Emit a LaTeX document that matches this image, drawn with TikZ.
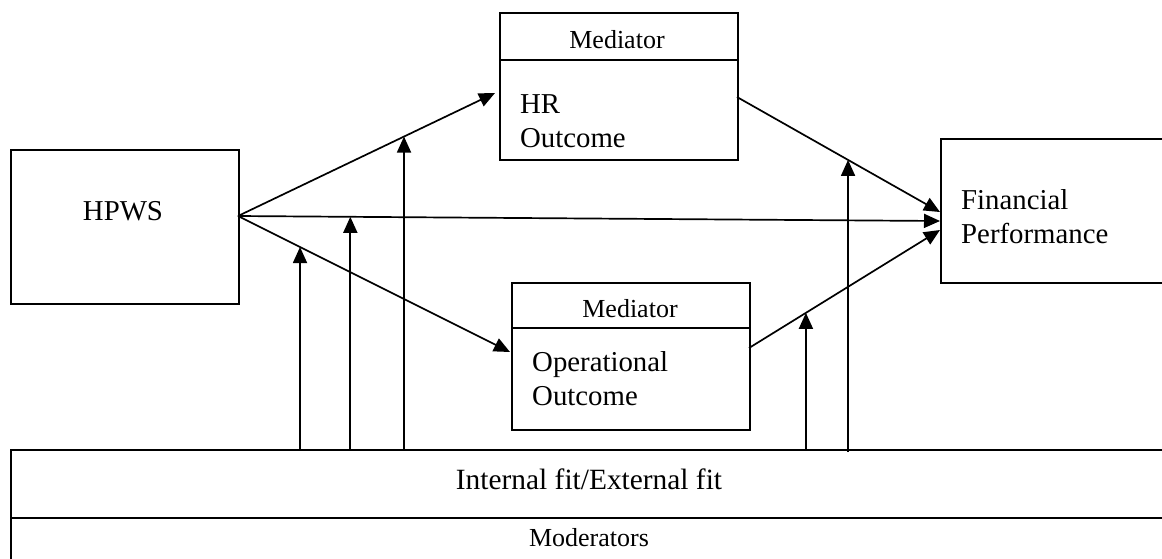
\documentclass[tikz,border=0pt]{standalone}
\usepackage{fontspec}
\setmainfont{Liberation Serif}
\usetikzlibrary{arrows.meta,calc}
\begin{document}
\begin{tikzpicture}[x=1pt,y=-1pt,
  box/.style={draw,line width=1.8pt,inner sep=0pt,anchor=north west},
  link/.style={line width=1.7pt,-{Triangle[length=16pt,width=14pt]}},
  big/.style={font=\fontsize{28.8}{34}\selectfont,inner sep=0pt},
  med/.style={font=\fontsize{26}{30}\selectfont,inner sep=0pt},
  two/.style={big,align=left,anchor=west}]
\useasboundingbox (0,0) rectangle (1162,558);
% boxes
\node[box,minimum width=228pt,minimum height=154pt] (hpws) at (10,149) {};
\node[box,minimum width=238pt,minimum height=147pt] (hr) at (499,12) {};
\node[box,minimum width=238pt,minimum height=147pt] (op) at (511,282) {};
\node[box,minimum width=240pt,minimum height=144pt] (fin) at (940,138) {};
\node[box,minimum width=1170pt,minimum height=68pt] (fit) at (10,449) {};
\node[box,minimum width=1170pt,minimum height=60pt] (mods) at (10,517) {};
\draw[line width=1.8pt] ($(hr.north west)+(0,48)$) -- ($(hr.north east)+(0,48)$);
\draw[line width=1.8pt] ($(op.north west)+(0,46)$) -- ($(op.north east)+(0,46)$);
% texts
\node[big] (hpwstext) at (123,211) {HPWS};
\node[med] (hrmed) at (617,40) {Mediator};
\node[two] (hrtext) at (520,121) {HR\\Outcome};
\node[med] (opmed) at (630,309) {Mediator};
\node[two] (optext) at (532,379) {Operational\\Outcome};
\node[two] (fintext) at (961,217) {Financial\\Performance};
\node[big,font=\fontsize{29.4}{34}\selectfont] (fittext) at (589,479) {Internal fit/External fit};
\node[med] (modtext) at (589,538) {Moderators};
% ports
\coordinate (hpwsout) at (238,216);
\coordinate (hrin) at (495,93);
\coordinate (hrout) at (737,97);
\coordinate (opin) at (510,352);
\coordinate (opout) at (749,348);
\coordinate (finup) at (940,212);
\coordinate (finmid) at (940,221);
\coordinate (finlow) at (940,230);
% paths
\draw[link] (hpwsout) -- (hrin);
\draw[link] (hpwsout) -- (finmid);
\draw[link] (hpwsout) -- (opin);
\draw[link] (hrout) -- (finup);
\draw[link] (opout) -- (finlow);
% moderating arrows
\coordinate (m1) at ($(hpwsout)!0.228!(opin)$);
\coordinate (m2) at ($(hpwsout)!0.16!(finmid)$);
\coordinate (m3) at ($(hpwsout)!0.646!(hrin)$);
\coordinate (m4) at ($(opout)!0.298!(finlow)$);
\coordinate (m5) at ($(hrout)!0.547!(finup)$);
\foreach \m in {m1,m2,m3,m4}
  \draw[link] (\m |- fit.north) -- (\m);
\draw[link] ($(m5 |- fit.north)+(0,3)$) -- (m5);
\end{tikzpicture}
\end{document}
